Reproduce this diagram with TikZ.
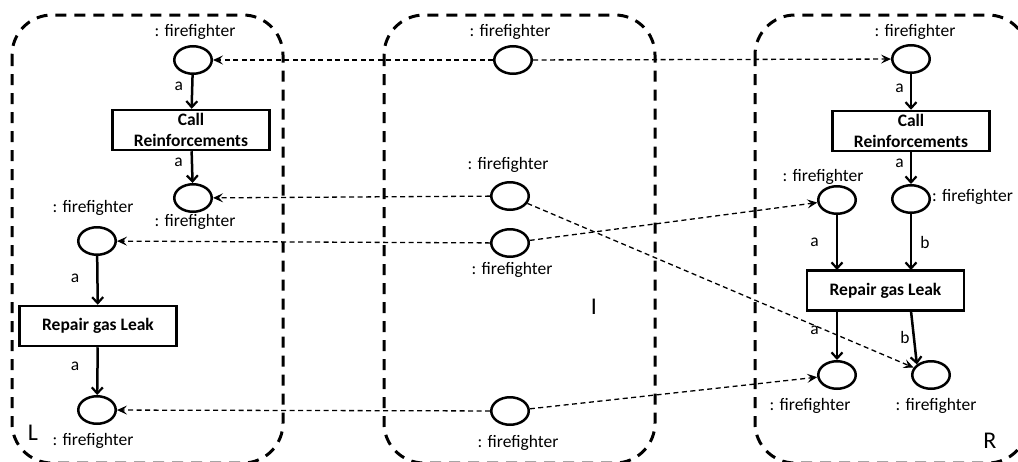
\documentclass[tikz,border=0pt]{standalone}
\usepackage{fontspec}
\setmainfont{Carlito}
\usetikzlibrary{arrows.meta,shapes.geometric}
\begin{document}
\begin{tikzpicture}[x=1pt,y=-1pt,
  txt/.style={font=\fontsize{17.5}{20}\selectfont, inner sep=0pt},
  place/.style={draw, line width=2.5pt, ellipse, minimum width=37.5pt, minimum height=27.5pt, inner sep=0pt},
  trans/.style={draw, line width=2.5pt, rectangle, minimum width=157pt, minimum height=40pt, inner sep=0pt, align=center, font=\fontsize{17.5}{21}\selectfont\bfseries},
  arc/.style={line width=2.5pt, -{Straight Barb[length=6pt,width=11pt,line width=2.2pt]}},
  map/.style={line width=1.3pt, dash pattern=on 5pt off 3.5pt, -{Stealth[length=10pt,width=9pt,inset=4pt]}},
  region/.style={line width=3pt, dash pattern=on 11pt off 8pt, rounded corners=40pt},
  big/.style={font=\fontsize{24}{24}\selectfont, inner sep=0pt},
  lab/.style={font=\fontsize{17.5}{20}\selectfont, inner sep=0pt}
]
\useasboundingbox (0,0) rectangle (1018,461);
\clip (0,0) rectangle (1018,461);

% regions
\draw[region] (12,15) rectangle (283,463);
\draw[region] (384,15) rectangle (655,463);
\draw[region] (755,15) rectangle (1028,463);
\node[big] (Ltxt) at (33,433) {L};
\node[big] (Itxt) at (594,307) {I};
\node[big] (Rtxt) at (990,441) {R};

% L
\node[place] (p1) at (193,60) {};
\node[txt] (p1l) at (195,32) {: firefighter};
\node[trans] (cr1) at (191,130) {Call\\Reinforcements};
\node[place] (p2) at (193,198) {};
\node[txt] (p2l) at (195,222) {: firefighter};
\node[place] (p3) at (97,241) {};
\node[txt] (p3l) at (93,208) {: firefighter};
\node[trans] (rg1) at (98,326) {Repair gas Leak};
\node[place] (p4) at (97,410) {};
\node[txt] (p4l) at (93,441) {: firefighter};

\draw[arc] (p1) -- (cr1) node[lab, pos=0.35, left=8pt] {a};
\draw[arc] (cr1) -- (p2) node[lab, pos=0.35, left=8pt] {a};
\draw[arc] (p3) -- (rg1) node[lab, pos=0.45, left=17pt] {a};
\draw[arc] (rg1) -- (p4) node[lab, pos=0.4, left=17pt] {a};

% I
\node[place] (m1) at (513,60) {};
\node[txt] (m1l) at (510,32) {: firefighter};
\node[place] (m2) at (510,196) {};
\node[txt] (m2l) at (508,165) {: firefighter};
\node[place] (m3) at (510,243) {};
\node[txt] (m3l) at (512,270) {: firefighter};
\node[place] (m4) at (510,411) {};
\node[txt] (m4l) at (518,443) {: firefighter};

% R
\node[place] (r1) at (911,59) {};
\node[txt] (r1l) at (915,32) {: firefighter};
\node[trans] (cr2) at (911,131) {Call\\Reinforcements};
\node[place] (r2) at (911,199) {};
\node[txt, anchor=west] (r2l) at (932,197) {: firefighter};
\node[place] (r3) at (837,200) {};
\node[txt] (r3l) at (823,177) {: firefighter};
\node[trans] (rg2) at (885.5,290.5) {Repair gas Leak};
\node[place] (r4) at (837,375) {};
\node[txt] (r4l) at (810,406) {: firefighter};
\node[place] (r5) at (931,375) {};
\node[txt] (r5l) at (936,406) {: firefighter};

\coordinate (rgA) at (837,311);
\coordinate (rgB) at (911,311);
\coordinate (rgAt) at (837,270);
\coordinate (rgBt) at (911,270);

\draw[arc] (r1) -- (cr2) node[lab, pos=0.4, left=6pt] {a};
\draw[arc] (cr2) -- (r2) node[lab, pos=0.35, left=6pt] {a};
\draw[arc] (r3.south) -- (rgAt) node[lab, pos=0.5, left=17pt] {a};
\draw[arc] (r2.south) -- (rgBt) node[lab, pos=0.5, right=8pt] {b};
\draw[arc] (rgA) -- (r4.north) node[lab, pos=0.4, left=17pt] {a};
\draw[arc] (rgB) -- (r5.north west) node[lab, pos=0.5, left=3pt] {b};

% mappings
\draw[map] (m1) -- (p1);
\draw[map] (m1) -- (r1);
\draw[map] (m2) -- (p2);
\draw[map] (m2) -- (r5);
\draw[map] (m3) -- (p3);
\draw[map] (m3) -- (r3);
\draw[map] (m4) -- (p4);
\draw[map] (m4) -- (r4);
\end{tikzpicture}
\end{document}
